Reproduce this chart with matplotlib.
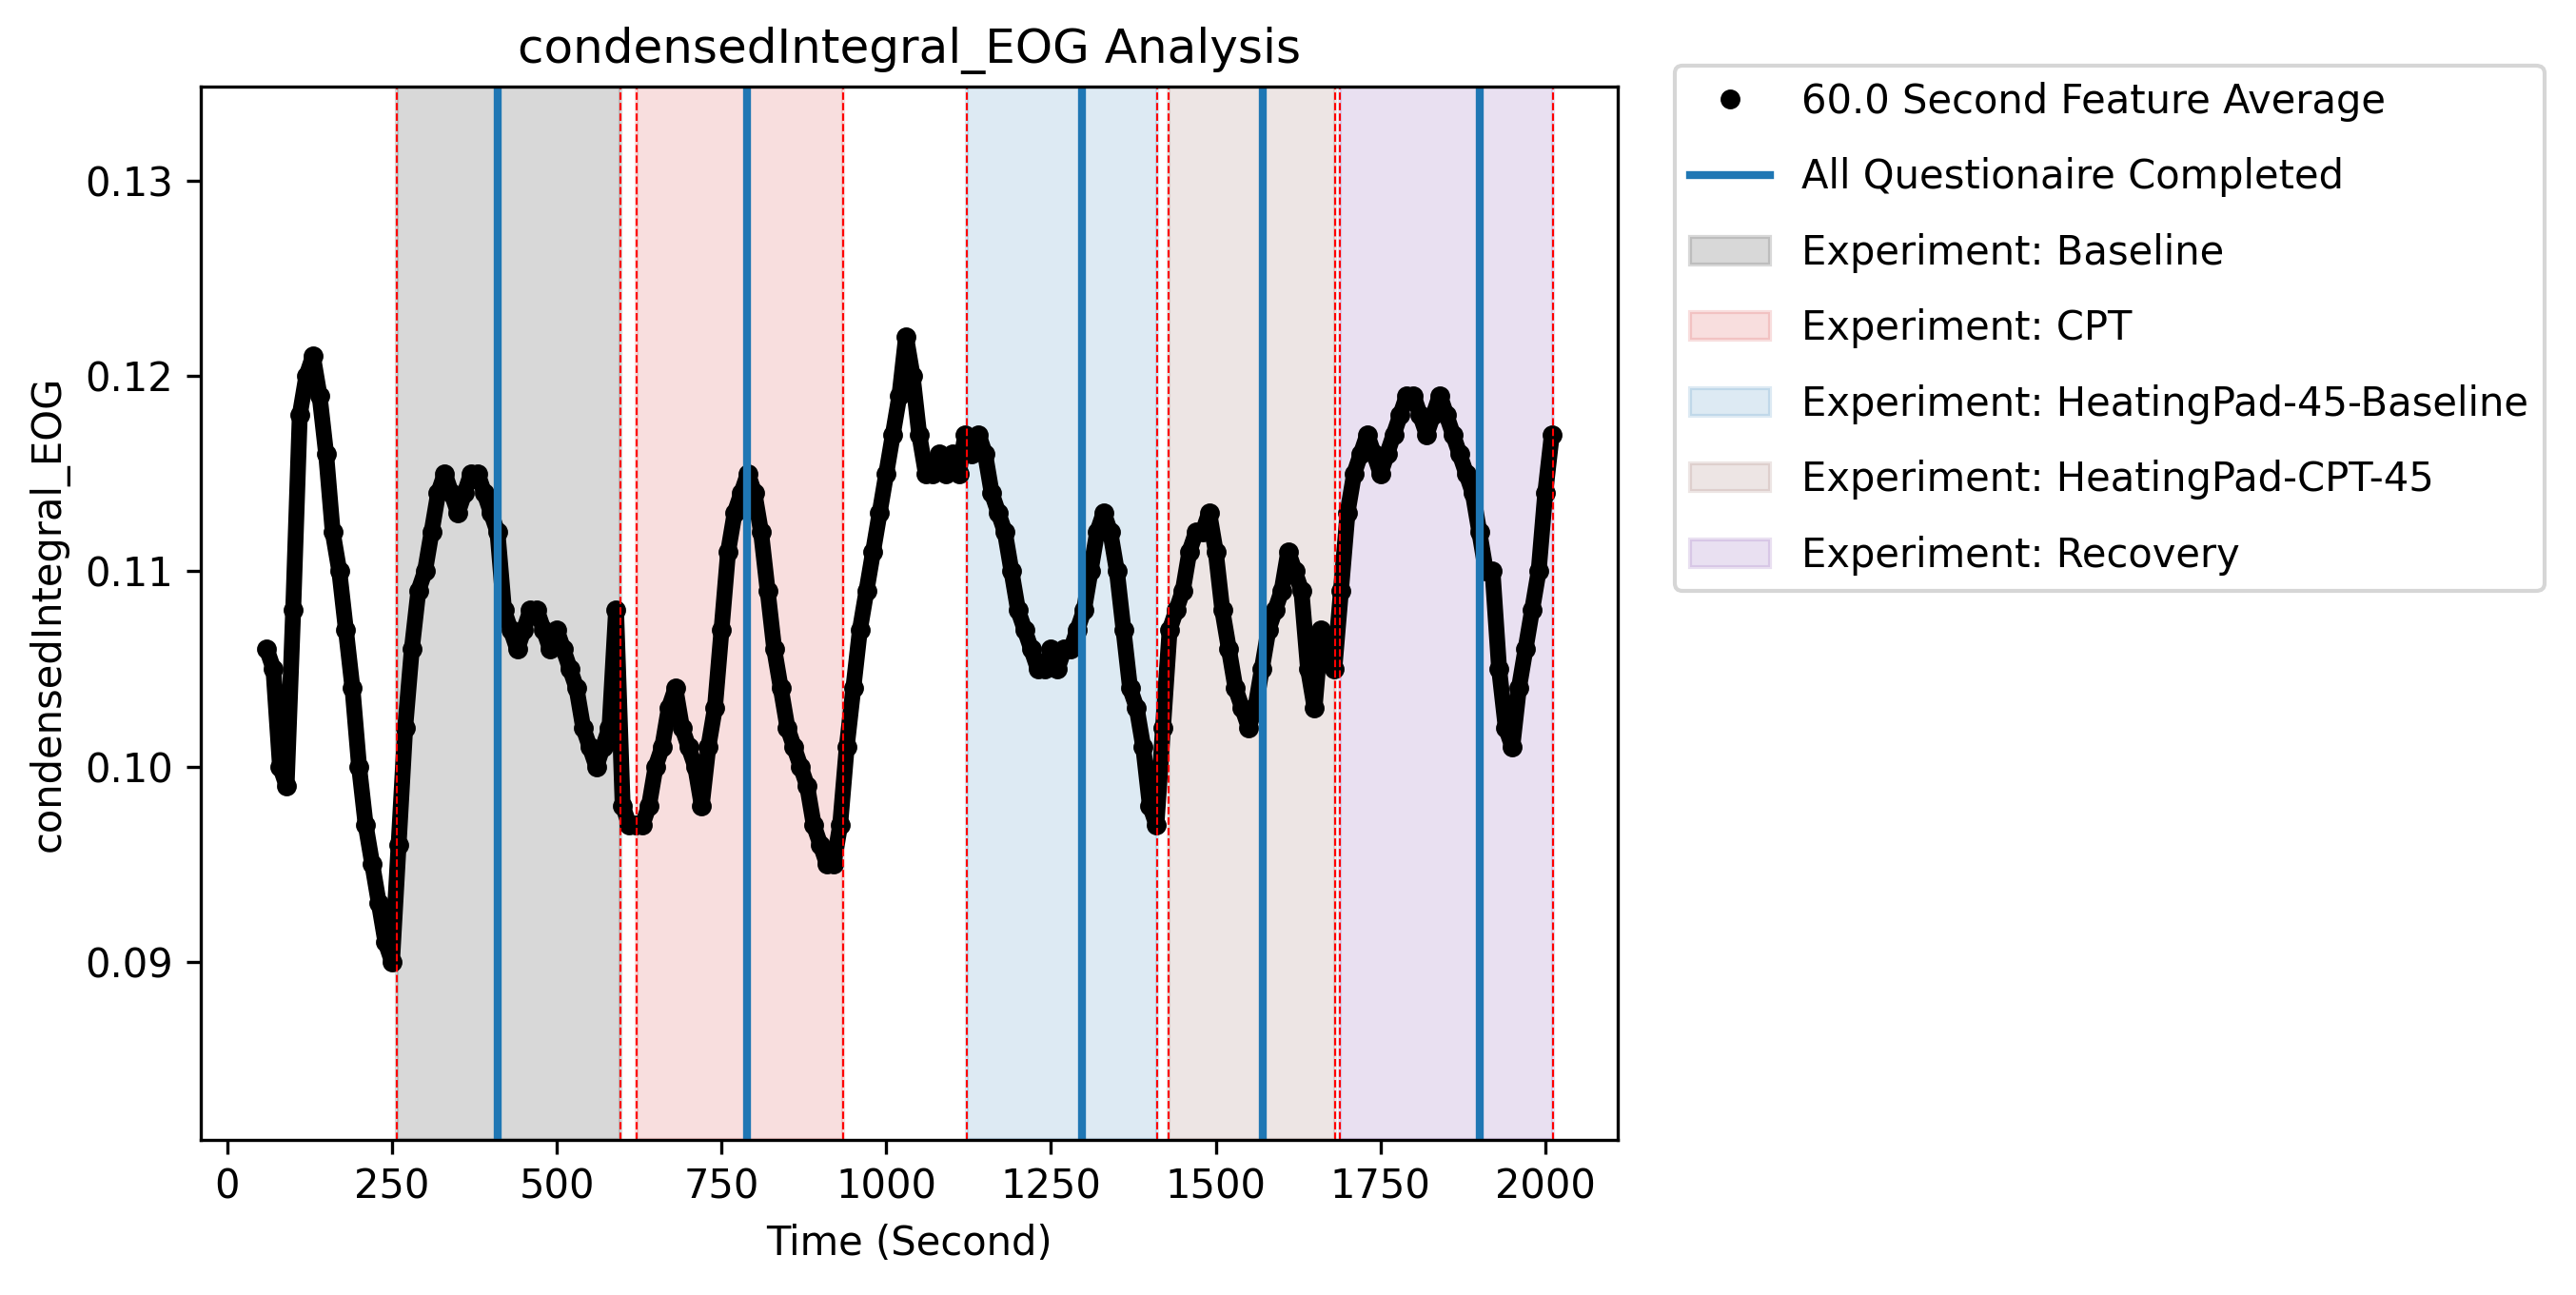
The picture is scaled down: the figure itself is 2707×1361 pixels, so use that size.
import numpy as np
import matplotlib
matplotlib.use("Agg")
import matplotlib.pyplot as plt

# 60 s feature average, sampled every 10 s
times = list(range(60, 2020, 10))
values = [0.106, 0.105, 0.100, 0.099, 0.108, 0.118, 0.120, 0.121, 0.119, 0.116,
          0.112, 0.110, 0.107, 0.104, 0.100, 0.097, 0.095, 0.093, 0.091, 0.090,
          0.096, 0.102, 0.106, 0.109, 0.110, 0.112, 0.114, 0.115, 0.114, 0.113,
          0.114, 0.115, 0.115, 0.114, 0.113, 0.112, 0.108, 0.107, 0.106, 0.107,
          0.108, 0.108, 0.107, 0.106, 0.107, 0.106, 0.105, 0.104, 0.102, 0.101,
          0.100, 0.101, 0.102, 0.108, 0.098, 0.097, 0.097, 0.097, 0.098, 0.100,
          0.101, 0.103, 0.104, 0.102, 0.101, 0.100, 0.098, 0.101, 0.103, 0.107,
          0.111, 0.113, 0.114, 0.115, 0.114, 0.112, 0.109, 0.106, 0.104, 0.102,
          0.101, 0.100, 0.099, 0.097, 0.096, 0.095, 0.095, 0.097, 0.101, 0.104,
          0.107, 0.109, 0.111, 0.113, 0.115, 0.117, 0.119, 0.122, 0.120, 0.117,
          0.115, 0.115, 0.116, 0.115, 0.116, 0.115, 0.117, 0.116, 0.117, 0.116,
          0.114, 0.113, 0.112, 0.110, 0.108, 0.107, 0.106, 0.105, 0.105, 0.106,
          0.105, 0.106, 0.106, 0.107, 0.108, 0.110, 0.112, 0.113, 0.112, 0.110,
          0.107, 0.104, 0.103, 0.101, 0.098, 0.097, 0.102, 0.107, 0.108, 0.109,
          0.111, 0.112, 0.112, 0.113, 0.111, 0.108, 0.106, 0.104, 0.103, 0.102,
          0.103, 0.105, 0.107, 0.108, 0.109, 0.111, 0.110, 0.109, 0.105, 0.103,
          0.107, 0.106, 0.105, 0.109, 0.113, 0.115, 0.116, 0.117, 0.116, 0.115,
          0.116, 0.117, 0.118, 0.119, 0.119, 0.118, 0.117, 0.118, 0.119, 0.118,
          0.117, 0.116, 0.115, 0.114, 0.112, 0.110, 0.110, 0.105, 0.102, 0.101,
          0.104, 0.106, 0.108, 0.110, 0.114, 0.117]

experiments = ["Baseline", "CPT", "HeatingPad-45-Baseline", "HeatingPad-CPT-45", "Recovery"]
exp_start = [257, 621, 1122, 1429, 1688]
exp_end = [596, 935, 1411, 1681, 2012]
exp_colors = ["tab:gray", "tab:red", "tab:blue", "tab:brown", "tab:purple"]
exp_alpha = [0.3, 0.15, 0.15, 0.15, 0.2]
survey_times = [411, 788, 1297, 1571, 1900]

fig = plt.figure(figsize=(2707 / 300, 1361 / 300), dpi=300)
ax = fig.add_axes([0.078, 0.12, 0.55, 0.813])

# dense trace look: thick line under the dots
ax.plot(times, values, "-", color="k", linewidth=4, solid_capstyle="round")
ax.plot(times, values, "o", color="k", markersize=4, label="60.0 Second Feature Average")

for i, t in enumerate(survey_times):
    ax.axvline(t, color="tab:blue", linewidth=2,
               label="All Questionaire Completed" if i == 0 else None)

for name, s, e, c, a in zip(experiments, exp_start, exp_end, exp_colors, exp_alpha):
    ax.axvspan(s, e, color=c, alpha=a, label="Experiment: " + name)
    ax.axvline(s, color="red", linestyle="--", linewidth=0.5)
    ax.axvline(e, color="red", linestyle="--", linewidth=0.5)

ax.set_ylim(0.0809, 0.1348)
ax.set_xlim(-40, 2110)
ax.set_yticks([0.09, 0.10, 0.11, 0.12, 0.13])
ax.set_xlabel("Time (Second)")
ax.set_ylabel("condensedIntegral_EOG")
ax.set_title("condensedIntegral_EOG Analysis")
ax.legend(loc="upper left", bbox_to_anchor=(1.04, 1.02), borderaxespad=0,
          labelspacing=0.9)

fig.savefig("out.png", dpi=300)
